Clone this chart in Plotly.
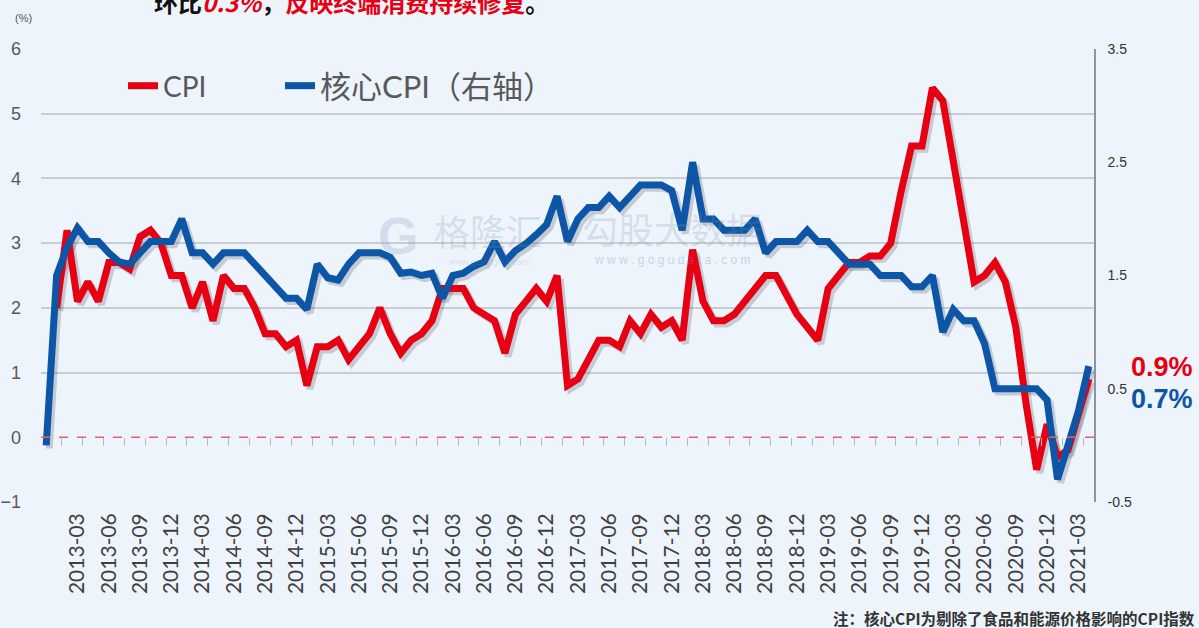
import plotly.graph_objects as go

# ---------------- data ----------------
months = []
for yr in range(2012, 2022):
    for mo in range(1, 13):
        if (yr, mo) >= (2012, 12) and (yr, mo) <= (2021, 4):
            months.append(f"{yr}-{mo:02d}")

# CPI YoY (%), left axis
cpi = [None,
       2.0, 3.2, 2.1, 2.4, 2.1, 2.7, 2.7, 2.6, 3.1, 3.2, 3.0, 2.5,
       2.5, 2.0, 2.4, 1.8, 2.5, 2.3, 2.3, 2.0, 1.6, 1.6, 1.4, 1.5,
       0.8, 1.4, 1.4, 1.5, 1.2, 1.4, 1.6, 2.0, 1.6, 1.3, 1.5, 1.6,
       1.8, 2.3, 2.3, 2.3, 2.0, 1.9, 1.8, 1.3, 1.9, 2.1, 2.3, 2.1,
       2.5, 0.8, 0.9, 1.2, 1.5, 1.5, 1.4, 1.8, 1.6, 1.9, 1.7, 1.8,
       1.5, 2.9, 2.1, 1.8, 1.8, 1.9, 2.1, 2.3, 2.5, 2.5, 2.2, 1.9,
       1.7, 1.5, 2.3, 2.5, 2.7, 2.7, 2.8, 2.8, 3.0, 3.8, 4.5, 4.5,
       5.4, 5.2, 4.3, 3.3, 2.4, 2.5, 2.7, 2.4, 1.7, 0.5, -0.5, 0.2,
       -0.3, -0.2, 0.4, 0.9]

# Core CPI YoY (%), right axis
core = [0.0,
        1.5, 1.75, 1.92, 1.8, 1.8, 1.7, 1.62, 1.6, 1.7, 1.8, 1.8, 1.8,
        2.0, 1.7, 1.7, 1.6, 1.7, 1.7, 1.7, 1.6, 1.5, 1.4, 1.3, 1.3,
        1.2, 1.6, 1.48, 1.46, 1.6, 1.7, 1.7, 1.7, 1.66, 1.52, 1.53, 1.5,
        1.52, 1.3, 1.5, 1.52, 1.58, 1.62, 1.8, 1.62, 1.72, 1.78, 1.86, 1.95,
        2.2, 1.8, 2.0, 2.1, 2.1, 2.2, 2.1, 2.2, 2.3, 2.3, 2.3, 2.25,
        1.9, 2.5, 2.0, 2.0, 1.9, 1.9, 1.9, 2.0, 1.7, 1.8, 1.8, 1.8,
        1.9, 1.8, 1.8, 1.7, 1.6, 1.6, 1.6, 1.5, 1.5, 1.5, 1.4, 1.4,
        1.5, 1.0, 1.2, 1.1, 1.1, 0.9, 0.5, 0.5, 0.5, 0.5, 0.5, 0.4,
        -0.3, 0.0, 0.3, 0.7]

left_ticks = [-1, 0, 1, 2, 3, 4, 5, 6]
right_ticks = [-0.5, 0.5, 1.5, 2.5, 3.5]
left_range = [-1, 6]
right_range = [-0.5, 3.5]

RED = "#E60012"
BLUE = "#0D55A6"
BG = "#EDF4FB"

n = len(months)
idx = list(range(n))
label_idx = [i for i in idx if months[i].endswith(("-03", "-06", "-09", "-12")) and i > 0]
tick_bounds = [i + 0.5 for i in range(1, n - 1, 2)]

# convert core values to left-axis scale for the shadow trace
scale = (left_range[1] - left_range[0]) / (right_range[1] - right_range[0])
core_on_left = [left_range[0] + (v - right_range[0]) * scale for v in core]

fig = go.Figure()

# soft drop shadows
shadow = "rgba(40,40,60,0.20)"
fig.add_trace(go.Scatter(x=[i + 0.3 for i in idx], y=[None if v is None else v - 0.05 for v in cpi],
                         mode="lines", line=dict(color=shadow, width=7),
                         showlegend=False, hoverinfo="skip"))
fig.add_trace(go.Scatter(x=[i + 0.3 for i in idx], y=[v - 0.05 for v in core_on_left],
                         mode="lines", line=dict(color=shadow, width=7),
                         showlegend=False, hoverinfo="skip"))

fig.add_trace(go.Scatter(x=idx, y=cpi, name="CPI", mode="lines",
                         line=dict(color=RED, width=7), legend="legend"))
fig.add_trace(go.Scatter(x=idx, y=core, name="核心CPI（右轴）", mode="lines",
                         line=dict(color=BLUE, width=7), yaxis="y2", legend="legend2"))
# helper trace to activate the gridline axis and the tick-mark axis
fig.add_trace(go.Scatter(x=[0], y=[None], xaxis="x2", yaxis="y3",
                         showlegend=False, hoverinfo="skip", mode="lines"))

fig.update_layout(
    width=1199, height=628,
    margin=dict(l=41, r=105, t=49, b=126, autoexpand=False),
    paper_bgcolor=BG, plot_bgcolor=BG,
    font=dict(family="Liberation Sans, Arial, Noto Sans CJK SC", color="#595959"),
    xaxis=dict(range=[-0.5, n - 0.5], tickmode="array", automargin=False,
               tickvals=label_idx, ticktext=[months[i] for i in label_idx],
               tickangle=-90, ticks="", showgrid=False, zeroline=False, showline=False,
               tickfont=dict(size=21, color="#404040", family="Lato, Liberation Sans"),
               ticklabelstandoff=6),
    xaxis2=dict(overlaying="x", anchor="free", position=(0 - left_range[0]) / (left_range[1] - left_range[0]),
                range=[-0.5, n - 0.5], tickmode="array", tickvals=tick_bounds, automargin=False,
                ticks="outside", ticklen=8, tickwidth=1.2, tickcolor="#b8bcc2",
                showticklabels=False, showgrid=False, zeroline=False, showline=False, side="bottom"),
    yaxis=dict(range=left_range, tickmode="array", tickvals=left_ticks, automargin=False,
               showgrid=False, zeroline=False, showline=False, ticks="",
               tickfont=dict(size=18, color="#595959"), ticklabelstandoff=19),
    yaxis3=dict(overlaying="y", range=left_range, tickmode="array", automargin=False,
                tickvals=[v for v in left_ticks if v != 0],
                showgrid=True, gridcolor="#c8cdd3", gridwidth=1.5,
                showticklabels=False, zeroline=False, showline=False, ticks=""),
    yaxis2=dict(overlaying="y", side="right", range=right_range, tickmode="array", automargin=False,
                tickvals=right_ticks, ticktext=[f"{v:g}" for v in right_ticks],
                showgrid=False, zeroline=False, showline=True, linecolor="#8f959c", linewidth=1.5,
                ticks="", tickfont=dict(size=14, color="#333333", family="Liberation Sans"),
                ticklabelstandoff=9),
    legend=dict(x=(123 - 41) / 1053, y=(502 - 86) / 453, xanchor="left", yanchor="middle",
                bgcolor="rgba(0,0,0,0)",
                font=dict(size=28, color="#595959", family="Lato, Noto Sans CJK SC")),
    legend2=dict(x=(280 - 41) / 1053, y=(502 - 86) / 453, xanchor="left", yanchor="middle",
                 bgcolor="rgba(0,0,0,0)",
                 font=dict(size=31, color="#595959", family="Lato, Noto Sans CJK SC")),
    showlegend=True,
)

# zero reference line
fig.add_shape(type="line", xref="paper", x0=0, x1=1, yref="y", y0=0, y1=0,
              line=dict(color="#E36464", width=1.5, dash="dash"), layer="above")

ann = []
ann.append(dict(text="(%)", xref="paper", yref="paper", x=-0.017, y=(502 - 18) / 453, showarrow=False,
                font=dict(size=11, color="#555555"), xanchor="center", yanchor="middle"))
# cut-off headline
ann.append(dict(text="环比<b><i><span style='color:#E60012'>0.3%</span></i></b>，"
                     "<span style='color:#E60012'>反映终端消费持续修复</span>。",
                xref="paper", yref="paper", x=(152 - 41) / 1053, y=(502 - 2) / 453,
                xanchor="left", yanchor="middle",
                showarrow=False, font=dict(size=24, color="#111111", family="Noto Sans CJK SC", weight="bold")))
# end-value labels
ann.append(dict(text="<b>0.9%</b>", xref="paper", yref="paper", x=(1129 - 41) / 1053, y=(502 - 367) / 453,
                xanchor="left", yanchor="middle", showarrow=False,
                font=dict(size=27, color=RED, family="Liberation Sans")))
ann.append(dict(text="<b>0.7%</b>", xref="paper", yref="paper", x=(1129 - 41) / 1053, y=(502 - 399) / 453,
                xanchor="left", yanchor="middle", showarrow=False,
                font=dict(size=27, color=BLUE, family="Liberation Sans")))
# footnote
ann.append(dict(text="<b>注：核心CPI为剔除了食品和能源价格影响的CPI指数</b>", xref="paper", yref="paper",
                x=(1197 - 41) / 1053, y=-(618 - 502) / 453, xanchor="right", yanchor="middle",
                showarrow=False, font=dict(size=15.5, color="#333333", family="Noto Sans CJK SC")))
# watermark
wm = "rgba(120,145,185,0.22)"
ann.append(dict(text="<b>G</b>", xref="paper", yref="paper", x=(398 - 41) / 1053, y=(502 - 236) / 453,
                showarrow=False, font=dict(size=52, color=wm, family="Liberation Sans")))
ann.append(dict(text="格隆汇", xref="paper", yref="paper", x=(488 - 41) / 1053, y=(502 - 230) / 453,
                showarrow=False, font=dict(size=36, color=wm, family="Noto Sans CJK SC")))
ann.append(dict(text="www.gelonghui.com", xref="paper", yref="paper", x=(488 - 41) / 1053, y=(502 - 262) / 453,
                showarrow=False, font=dict(size=9, color=wm, family="Liberation Sans")))
ann.append(dict(text="勾股大数据", xref="paper", yref="paper", x=(672 - 41) / 1053, y=(502 - 228) / 453,
                showarrow=False, font=dict(size=36, color=wm, family="Noto Sans CJK SC")))
ann.append(dict(text="w w w . g o g u d a t a . c o m", xref="paper", yref="paper", x=(672 - 41) / 1053,
                y=(502 - 260) / 453, showarrow=False,
                font=dict(size=12, color="rgba(120,145,185,0.35)", family="Liberation Sans")))
fig.update_layout(annotations=ann)

fig.write_html("out.html", config={"displayModeBar": False},
               post_script="document.body.style.margin='0';")
